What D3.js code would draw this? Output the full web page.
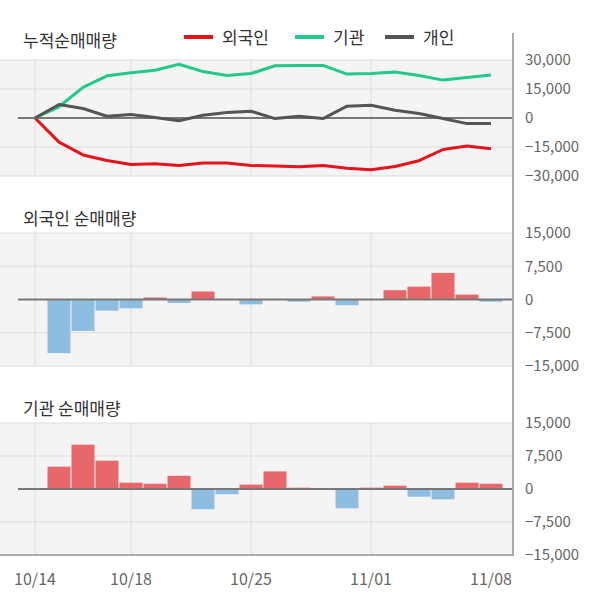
<!DOCTYPE html>
<html>
<head>
<meta charset="utf-8">
<script src="https://cdn.jsdelivr.net/npm/d3@7"></script>
<style>
  body { margin: 0; background: #fff; }
  svg text { font-family: "Noto Sans CJK KR", "Noto Sans", sans-serif; }
  .panel-title { font-size: 17px; fill: #333; }
  .legend-label { font-size: 17px; fill: #333; }
  .tick-label { font-size: 15px; fill: #666; }
  .x-label { font-size: 16px; fill: #666; }
</style>
</head>
<body>
<div id="chart"></div>
<script>
// data
const dates = ['10/14','10/15','10/16','10/17','10/18','10/21','10/22','10/23','10/24','10/25',
               '10/28','10/29','10/30','10/31','11/01','11/04','11/05','11/06','11/07','11/08'];
const xTickDates = ['10/14','10/18','10/25','11/01','11/08'];
const xGridDates = ['10/14','10/18','10/25','11/01'];

const cumForeign = [0, -12500, -19100, -22000, -24000, -23700, -24600, -23300, -23300, -24600,
                    -24800, -25200, -24600, -26000, -26800, -25100, -22100, -16300, -14500, -15900];
const cumInst    = [0, 5800, 15800, 21800, 23400, 24700, 27800, 24000, 22000, 23000,
                    27000, 27200, 27200, 22700, 23000, 23800, 22000, 19600, 20900, 22300];
const cumIndiv   = [0, 7000, 4900, 900, 1800, 300, -1400, 1400, 2800, 3500,
                    -300, 900, -300, 6100, 6600, 4000, 2300, -300, -2900, -2900];

const dailyForeign = [0, -12100, -7100, -2500, -2000, 450, -800, 1800, 0, -1100,
                      0, -500, 700, -1300, 0, 2100, 2900, 6000, 1100, -500];
const dailyInst    = [0, 5070, 10070, 6430, 1430, 1200, 3000, -4600, -1200, 1000,
                      4000, 300, 0, -4400, 300, 750, -1750, -2350, 1430, 1200];

const cumTicks = [30000, 15000, 0, -15000, -30000];
const dailyTicks = [15000, 7500, 0, -7500, -15000];

const seriesNames = ['외국인', '기관', '개인'];
const seriesColors = ['#e5141c', '#22c98a', '#555555'];

// chart static params
const width = 600, height = 604;
const plot_right = 512.5;
const x_first = 35, x_last = 491;
const bar_width = 23;
const color_up = '#e8676a', color_down = '#8dbde1';

const svg = d3.select('#chart').append('svg')
    .attr('width', width)
    .attr('height', height);

// x scale shared by all panels
const xScale = d3.scalePoint()
    .domain(dates)
    .range([x_first, x_last]);

const fmt = d3.format(',');

// one panel: background, grids, right tick labels
function drawPanel(top, bottom, domain, ticks) {
  const yScale = d3.scaleLinear().domain(domain).range([bottom, top]);
  const g = svg.append('g');

  g.append('rect')
    .attr('x', 0).attr('y', top)
    .attr('width', plot_right).attr('height', bottom - top)
    .attr('fill', '#f4f4f4');

  // horizontal grid
  g.selectAll('.hgrid').data(ticks.filter(t => t !== 0)).join('line')
    .attr('x1', 0).attr('x2', plot_right)
    .attr('y1', d => yScale(d)).attr('y2', d => yScale(d))
    .attr('stroke', '#dcdcdc').attr('stroke-width', 1);

  // vertical grid
  g.selectAll('.vgrid').data(xGridDates).join('line')
    .attr('x1', d => xScale(d)).attr('x2', d => xScale(d))
    .attr('y1', top).attr('y2', bottom)
    .attr('stroke', '#dcdcdc').attr('stroke-width', 1);

  // tick labels on the right
  g.selectAll('.tick-label').data(ticks).join('text')
    .attr('class', 'tick-label')
    .attr('x', 525)
    .attr('y', d => yScale(d))
    .attr('dy', '0.35em')
    .text(d => fmt(d));

  return {g, yScale};
}

function drawZero(g, yScale) {
  g.append('line')
    .attr('x1', 18).attr('x2', plot_right)
    .attr('y1', yScale(0)).attr('y2', yScale(0))
    .attr('stroke', '#777').attr('stroke-width', 2);
}

// cumulative panel
const cum = drawPanel(60, 176, [-30000, 30000], cumTicks);
drawZero(cum.g, cum.yScale);

const line = d3.line()
    .x((d, i) => xScale(dates[i]))
    .y(d => cum.yScale(d));

[cumForeign, cumInst, cumIndiv].forEach((s, k) => {
  cum.g.append('path')
    .datum(s)
    .attr('d', line)
    .attr('fill', 'none')
    .attr('stroke', seriesColors[k])
    .attr('stroke-width', 3)
    .attr('stroke-linejoin', 'round');
});

// bar panels
function drawBars(panel, values) {
  panel.g.selectAll('.bar').data(values).join('rect')
    .attr('x', (d, i) => xScale(dates[i]) - bar_width / 2)
    .attr('width', bar_width)
    .attr('y', d => panel.yScale(Math.max(0, d)))
    .attr('height', d => Math.abs(panel.yScale(d) - panel.yScale(0)))
    .attr('fill', d => d >= 0 ? color_up : color_down);
  drawZero(panel.g, panel.yScale);
}

const foreignPanel = drawPanel(233, 366, [-15000, 15000], dailyTicks);
drawBars(foreignPanel, dailyForeign);

const instPanel = drawPanel(423, 555, [-15000, 15000], dailyTicks);
drawBars(instPanel, dailyInst);

// frame lines: right axis and bottom
svg.append('line')
  .attr('x1', plot_right + 0.5).attr('x2', plot_right + 0.5)
  .attr('y1', 33).attr('y2', 556)
  .attr('stroke', '#aaa').attr('stroke-width', 2);
svg.append('line')
  .attr('x1', 0).attr('x2', plot_right + 1.5)
  .attr('y1', 555).attr('y2', 555)
  .attr('stroke', '#aaa').attr('stroke-width', 2);

// x tick labels
svg.selectAll('.x-label').data(xTickDates).join('text')
  .attr('class', 'x-label')
  .attr('x', d => xScale(d))
  .attr('y', 585)
  .attr('text-anchor', 'middle')
  .text(d => d);

// titles
svg.append('text').attr('class', 'panel-title').attr('x', 23).attr('y', 47).text('누적순매매량');
svg.append('text').attr('class', 'panel-title').attr('x', 23).attr('y', 225).text('외국인 순매매량');
svg.append('text').attr('class', 'panel-title').attr('x', 23).attr('y', 415).text('기관 순매매량');

// legend
const legendX = [184, 295, 385];
seriesNames.forEach((name, k) => {
  svg.append('line')
    .attr('x1', legendX[k]).attr('x2', legendX[k] + 29)
    .attr('y1', 37).attr('y2', 37)
    .attr('stroke', seriesColors[k]).attr('stroke-width', 4);
  svg.append('text')
    .attr('class', 'legend-label')
    .attr('x', legendX[k] + 38)
    .attr('y', 44)
    .text(name);
});
</script>
</body>
</html>
